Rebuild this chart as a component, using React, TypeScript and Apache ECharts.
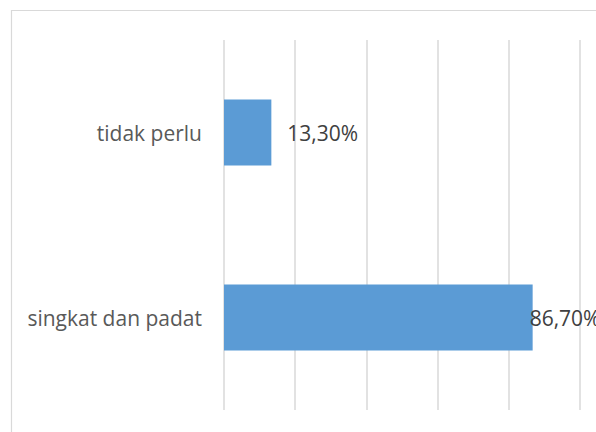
import React, { useEffect, useRef } from "react";
import * as echarts from "echarts";

const categories = ["tidak perlu", "singkat dan padat"];
const values = [0.133, 0.867];
const valueLabels = ["13,30%", "86,70%"];
const labelDistances = [16, -3];

export default function App() {
  const ref = useRef<HTMLDivElement>(null);
  useEffect(() => {
    if (!ref.current) return;
    const chart = echarts.init(ref.current, null, { renderer: "svg" });
    chart.setOption({
      animation: false,
      backgroundColor: "#ffffff",
      textStyle: { fontFamily: "Open Sans" },
      graphic: [
        {
          type: "rect",
          shape: { x: 11.5, y: 10.5, width: 600, height: 440 },
          style: { fill: "none", stroke: "#d9d9d9", lineWidth: 1.2 },
          z: -1,
        },
      ],
      grid: { left: 224, right: 16, top: 40, bottom: 22 },
      xAxis: {
        type: "value",
        min: 0,
        max: 1,
        interval: 0.2,
        axisLabel: { show: false },
        axisLine: { show: false },
        axisTick: { show: false },
        splitLine: { show: true, lineStyle: { color: "#d9d9d9", width: 1.5 } },
      },
      yAxis: {
        type: "category",
        data: categories,
        inverse: true,
        axisLine: { show: false },
        axisTick: { show: false },
        axisLabel: {
          margin: 22,
          color: "#595959",
          fontSize: 21,
          fontFamily: "Open Sans",
        },
      },
      series: [
        {
          type: "bar",
          barWidth: 66,
          itemStyle: { color: "#5b9bd5" },
          data: values.map((v, i) => ({
            value: v,
            label: {
              show: true,
              position: "right",
              distance: labelDistances[i],
              formatter: valueLabels[i],
              color: "#404040",
              fontSize: 21,
              fontFamily: "Open Sans",
            },
          })),
        },
      ],
    });
    return () => chart.dispose();
  }, []);
  return (
    <div
      ref={ref}
      style={{ position: "fixed", left: 0, top: 0, width: 596, height: 432 }}
    />
  );
}
